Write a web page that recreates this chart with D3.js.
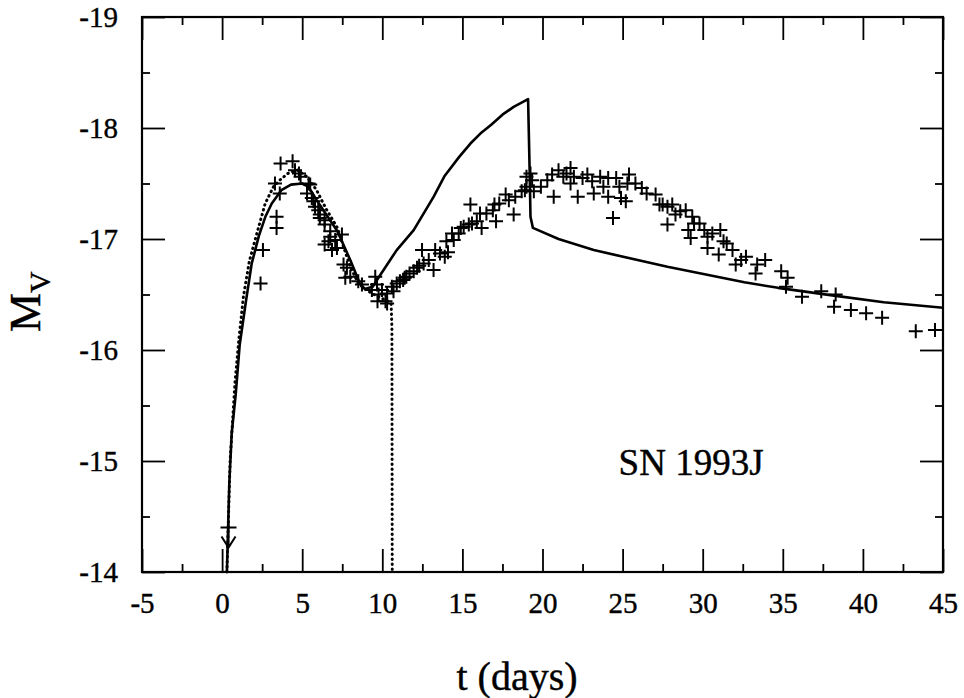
<!DOCTYPE html>
<html>
<head>
<meta charset="utf-8">
<script src="https://cdn.jsdelivr.net/npm/d3@7"></script>
<style>
  body { margin: 0; background: #fff; }
  svg text { font-family: "Liberation Serif", "Times New Roman", serif; fill: #000; }
</style>
</head>
<body>
<div id="chart"></div>
<script>
// Tick values
const xTicksMajor = [-5, 0, 5, 10, 15, 20, 25, 30, 35, 40, 45];
const xTicksMinor = [-2.5, 2.5, 7.5, 12.5, 17.5, 22.5, 27.5, 32.5, 37.5, 42.5];
const yTicksMajor = [-19, -18, -17, -16, -15, -14];
const yTicksMinor = [-18.5, -17.5, -16.5, -15.5, -14.5];

// Observed V photometry of SN 1993J: [t (days), M_V]
const photometry = [
  [2.4, -16.6], [2.55, -16.9], [3.4, -17.1], [3.4, -17.2], [3.3, -17.5], [3.6, -17.41],
  [3.65, -17.68], [4.4, -17.7], [4.55, -17.62], [4.8, -17.59], [4.9, -17.56],
  [5.3, -17.41], [5.4, -17.5], [5.5, -17.49], [5.6, -17.37], [5.7, -17.34], [5.8, -17.29],
  [6.0, -17.26], [6.1, -17.19], [6.1, -17.22], [6.4, -17.13], [6.4, -16.95], [6.4, -17.17],
  [6.75, -17.02], [6.75, -17.07], [6.86, -16.9], [6.64, -16.98], [7.06, -16.99], [7.48, -17.04],
  [7.17, -16.92], [7.58, -16.77], [7.79, -16.74], [8.0, -16.66], [7.69, -16.65], [8.5, -16.62],
  [8.73, -16.59], [9.56, -16.66], [9.67, -16.59], [9.35, -16.54], [9.77, -16.5], [9.98, -16.54],
  [9.7, -16.44], [10.3, -16.51], [10.2, -16.44], [10.3, -16.42], [10.6, -16.57], [10.7, -16.53],
  [10.9, -16.6], [11.1, -16.62], [11.3, -16.63], [11.5, -16.66], [11.4, -16.65], [11.7, -16.69],
  [11.96, -16.71], [12.17, -16.74], [12.3, -16.76], [12.58, -16.78], [12.9, -16.81], [13.2, -16.72],
  [12.48, -16.9], [13.3, -16.9], [13.6, -16.87], [13.9, -16.84], [14.1, -16.88], [14.0, -16.98],
  [14.46, -16.99], [14.35, -17.05], [14.77, -17.05], [14.9, -17.1], [15.08, -17.11],
  [15.4, -17.13], [15.6, -17.14], [15.9, -17.16], [16.2, -17.1], [15.5, -17.31], [16.1, -17.23],
  [16.5, -17.23], [16.9, -17.26], [17.1, -17.16], [17.0, -17.31], [17.3, -17.32], [17.7, -17.4],
  [17.9, -17.35], [18.2, -17.22], [18.3, -17.38], [18.7, -17.43], [19.0, -17.47], [19.35, -17.53],
  [19.46, -17.43], [19.25, -17.59], [19.0, -17.56], [18.9, -17.44],
  [19.9, -17.47], [20.3, -17.53], [20.6, -17.58], [20.7, -17.38], [21.0, -17.62], [21.3, -17.56],
  [21.5, -17.59], [21.75, -17.64], [21.75, -17.5], [21.96, -17.56], [22.2, -17.38], [22.5, -17.55],
  [22.8, -17.58], [23.1, -17.52], [23.2, -17.41], [23.6, -17.56], [23.8, -17.47], [24.1, -17.55],
  [24.1, -17.38], [24.4, -17.19], [24.6, -17.55], [24.8, -17.47], [24.9, -17.37], [25.2, -17.34],
  [25.4, -17.58], [25.3, -17.5], [25.8, -17.5], [26.2, -17.46], [26.5, -17.41], [27.06, -17.4],
  [27.3, -17.31], [27.5, -17.31], [27.8, -17.29], [28.1, -17.31], [28.3, -17.22], [27.8, -17.13],
  [28.6, -17.25], [28.94, -17.26], [29.35, -17.2], [29.46, -17.14], [29.1, -17.08], [29.25, -17.01],
  [29.8, -17.14], [30.1, -17.08], [30.3, -17.02], [30.3, -16.92], [30.6, -17.05], [31.1, -17.08],
  [31.3, -16.98], [31.5, -16.96], [31.0, -16.86], [31.86, -16.9], [32.4, -16.81], [32.06, -16.77],
  [32.7, -16.84], [33.4, -16.77], [33.3, -16.69], [33.9, -16.81], [34.9, -16.71], [35.3, -16.65],
  [35.2, -16.57], [36.2, -16.48], [37.4, -16.53], [38.3, -16.5], [38.2, -16.39], [39.25, -16.36],
  [40.2, -16.33], [41.2, -16.29], [43.3, -16.17], [44.5, -16.18]
];

// Upper limit (arrow) from the earliest observation
const upperLimit = [[0.4, -14.4]];

// Model light curve (solid)
const modelSolid = [
  [0.3, -14.0], [0.45, -14.8], [0.6, -15.25], [0.85, -15.6], [1.1, -16.05], [1.5, -16.45],
  [1.85, -16.78], [2.3, -17.03], [2.7, -17.2], [3.1, -17.32], [3.7, -17.44], [4.3, -17.49],
  [5.0, -17.5], [5.4, -17.47], [5.9, -17.35], [6.5, -17.22], [7.2, -17.07], [8.0, -16.81],
  [8.6, -16.6], [8.9, -16.55], [9.4, -16.57], [9.8, -16.66], [10.9, -16.9], [11.96, -17.08],
  [13.2, -17.38], [13.9, -17.57], [14.8, -17.74], [15.5, -17.86], [16.2, -17.96], [16.8, -18.03],
  [17.5, -18.12], [18.2, -18.19], [19.1, -18.26], [19.2, -17.6], [19.25, -17.2], [19.4, -17.1],
  [21.0, -17.0], [23.2, -16.9], [27.8, -16.75], [32.6, -16.61], [34.7, -16.56], [38.2, -16.49],
  [41.3, -16.43], [45.0, -16.38]
];

// Model light curve (dotted)
const modelDotted = [
  [0.3, -14.0], [0.5, -15.0], [0.8, -15.7], [1.05, -16.1], [1.33, -16.48], [1.7, -16.8],
  [2.17, -17.05], [2.69, -17.32], [3.2, -17.47], [3.6, -17.53], [4.1, -17.59], [4.7, -17.62],
  [5.3, -17.56], [5.9, -17.44], [6.5, -17.27], [7.2, -17.1], [7.6, -16.92], [8.0, -16.75],
  [8.5, -16.6], [9.0, -16.54], [9.6, -16.49], [10.2, -16.45], [10.55, -16.42], [10.6, -16.2],
  [10.62, -14.0]
];

const margin = {top: 17, right: 21, bottom: 126, left: 142};
const width = 964 - margin.left - margin.right;
const height = 698 - margin.top - margin.bottom;

const svg = d3.select("#chart")
  .append("svg")
  .attr("width", 964)
  .attr("height", 698)
  .append("g")
  .attr("transform", `translate(${margin.left},${margin.top})`);

const x = d3.scaleLinear().domain([-5, 45]).range([0, width]);
const y = d3.scaleLinear().domain([-19, -14]).range([0, height]);

// Axes: ticks point inward on all four sides
function styleAxis(g) {
  g.select(".domain").remove();
  g.selectAll(".tick line").attr("stroke", "#000").attr("stroke-width", 1.8);
  g.selectAll(".tick text")
    .style("font-size", "29px")
    .style("font-family", '"Liberation Serif", serif')
    .attr("stroke", "#000")
    .attr("stroke-width", 0.4);
}

svg.append("g")
  .attr("transform", `translate(0,${height})`)
  .call(d3.axisBottom(x).tickValues(xTicksMajor).tickSize(-23).tickPadding(20).tickFormat(d => String(d)))
  .call(styleAxis);
svg.append("g")
  .attr("transform", `translate(0,${height})`)
  .call(d3.axisBottom(x).tickValues(xTicksMinor).tickSize(-8).tickFormat(""))
  .call(styleAxis);
svg.append("g")
  .call(d3.axisTop(x).tickValues(xTicksMajor).tickSize(-23).tickFormat(""))
  .call(styleAxis);
svg.append("g")
  .call(d3.axisTop(x).tickValues(xTicksMinor).tickSize(-8).tickFormat(""))
  .call(styleAxis);

svg.append("g")
  .call(d3.axisLeft(y).tickValues(yTicksMajor).tickSize(-23).tickPadding(24).tickFormat(d => String(d)))
  .call(styleAxis);
svg.append("g")
  .call(d3.axisLeft(y).tickValues(yTicksMinor).tickSize(-8).tickFormat(""))
  .call(styleAxis);
svg.append("g")
  .attr("transform", `translate(${width},0)`)
  .call(d3.axisRight(y).tickValues(yTicksMajor).tickSize(-23).tickFormat(""))
  .call(styleAxis);
svg.append("g")
  .attr("transform", `translate(${width},0)`)
  .call(d3.axisRight(y).tickValues(yTicksMinor).tickSize(-8).tickFormat(""))
  .call(styleAxis);

// Frame
svg.append("rect")
  .attr("width", width)
  .attr("height", height)
  .attr("fill", "none")
  .attr("stroke", "#000")
  .attr("stroke-width", 2.2);

// Model curves
const line = d3.line()
  .x(d => x(d[0]))
  .y(d => y(d[1]));

svg.append("path")
  .datum(modelDotted)
  .attr("fill", "none")
  .attr("stroke", "#000")
  .attr("stroke-width", 3)
  .attr("stroke-linecap", "round")
  .attr("stroke-dasharray", "0.5,4.5")
  .attr("d", line);

svg.append("path")
  .datum(modelSolid)
  .attr("fill", "none")
  .attr("stroke", "#000")
  .attr("stroke-width", 2.6)
  .attr("stroke-linejoin", "round")
  .attr("d", line);

// Data crosses
const arm = 7;
svg.append("g")
  .selectAll("path")
  .data(photometry)
  .enter()
  .append("path")
  .attr("d", d => {
    const cx = x(d[0]), cy = y(d[1]);
    return `M${cx - arm},${cy}H${cx + arm}M${cx},${cy - arm}V${cy + arm}`;
  })
  .attr("stroke", "#000")
  .attr("stroke-width", 2)
  .attr("fill", "none");

// Upper limit with downward arrow
upperLimit.forEach(d => {
  const cx = x(d[0]), cy = y(d[1]);
  const tip = y(d[1] + 0.18);
  svg.append("path")
    .attr("d", `M${cx - 8},${cy}H${cx + 8}M${cx},${cy - 7}V${tip}M${cx - 7},${tip - 11}L${cx},${tip}L${cx + 7},${tip - 11}`)
    .attr("stroke", "#000")
    .attr("stroke-width", 2)
    .attr("fill", "none");
});

// Annotation
svg.append("text")
  .attr("x", x(24.75))
  .attr("y", y(-14.87))
  .style("font-size", "37px")
  .attr("stroke", "#000")
  .attr("stroke-width", 0.4)
  .text("SN 1993J");

// Axis labels
svg.append("text")
  .attr("x", 517 - margin.left)
  .attr("y", 690 - margin.top)
  .attr("text-anchor", "middle")
  .style("font-size", "40px")
  .attr("stroke", "#000")
  .attr("stroke-width", 0.4)
  .text("t (days)");

const yLabel = svg.append("text")
  .attr("transform", `translate(${40 - margin.left},${332 - margin.top}) rotate(-90)`)
  .style("font-size", "44px")
  .attr("stroke", "#000")
  .attr("stroke-width", 0.4);
yLabel.append("tspan").text("M");
yLabel.append("tspan").attr("dy", 10).style("font-size", "30px").text("V");
</script>
</body>
</html>
